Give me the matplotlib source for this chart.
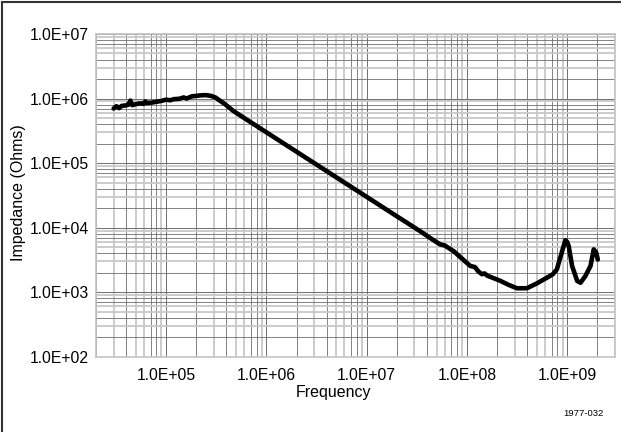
import matplotlib
matplotlib.use("Agg")
import math
import matplotlib.pyplot as plt
from matplotlib.ticker import LogLocator, NullFormatter, FixedLocator
from matplotlib.patches import Rectangle

freq = [3.0e4, 3.2e4, 3.4e4, 3.6e4, 3.9e4, 4.2e4, 4.4e4, 4.6e4, 5.0e4, 5.5e4,
        6.0e4, 6.2e4, 6.5e4, 7.0e4, 8.0e4, 9.0e4, 1.0e5, 1.1e5, 1.2e5, 1.35e5,
        1.5e5, 1.6e5, 1.8e5, 2.0e5, 2.2e5, 2.5e5, 2.8e5, 3.1e5, 3.5e5, 3.9e5,
        4.7e5, 6.0e5, 1.0e6, 2.0e6, 5.0e6, 1.0e7, 2.0e7, 3.4e7, 4.5e7, 5.4e7,
        6.0e7, 7.4e7, 1.08e8, 1.2e8, 1.3e8, 1.41e8, 1.5e8, 1.6e8, 2.15e8, 2.6e8,
        3.15e8, 3.97e8, 5.0e8, 6.3e8, 7.2e8, 7.9e8, 8.9e8, 9.6e8, 1.0e9, 1.035e9,
        1.12e9, 1.26e9, 1.36e9, 1.52e9, 1.71e9, 1.84e9, 1.95e9, 2.02e9]
impedance = [7.0e5, 7.6e5, 7.1e5, 7.7e5, 7.8e5, 8.0e5, 9.3e5, 7.9e5, 8.2e5, 8.4e5,
             8.3e5, 9.0e5, 8.5e5, 8.6e5, 8.9e5, 9.2e5, 9.6e5, 9.4e5, 9.8e5, 9.9e5,
             1.04e6, 1.0e6, 1.08e6, 1.10e6, 1.12e6, 1.13e6, 1.10e6, 1.04e6, 9.1e5, 8.1e5,
             6.4e5, 5.0e5, 3.0e5, 1.5e5, 6.0e4, 3.0e4, 1.5e4, 8.85e3, 6.6e3, 5.5e3,
             5.3e3, 4.3e3, 2.55e3, 2.45e3, 2.1e3, 1.9e3, 1.95e3, 1.8e3, 1.5e3, 1.3e3,
             1.15e3, 1.15e3, 1.37e3, 1.68e3, 1.9e3, 2.26e3, 4.3e3, 6.4e3, 6.0e3, 5.2e3,
             2.55e3, 1.49e3, 1.40e3, 1.78e3, 2.55e3, 4.6e3, 4.1e3, 3.2e3]

x_ticks = [1e5, 1e6, 1e7, 1e8, 1e9]
x_tick_labels = ["1.0E+05", "1.0E+06", "1.0E+07", "1.0E+08", "1.0E+09"]
y_ticks = [1e2, 1e3, 1e4, 1e5, 1e6, 1e7]
y_tick_labels = ["1.0E+02", "1.0E+03", "1.0E+04", "1.0E+05", "1.0E+06", "1.0E+07"]

plt.rcParams['font.family'] = ['Liberation Sans', 'DejaVu Sans']

fig = plt.figure(figsize=(6.21, 4.32), dpi=100)
ax = fig.add_axes([96/621, 1-356.7/432, (615-96)/621, (356.7-34)/432])

ax.set_xscale('log')
ax.set_yscale('log')
ax.set_xlim(2e4, 3e9)
ax.set_ylim(1e2, 1e7)

ax.xaxis.set_major_locator(FixedLocator(x_ticks))
ax.set_xticklabels(x_tick_labels)
ax.yaxis.set_major_locator(FixedLocator(y_ticks))
ax.set_yticklabels(y_tick_labels)
ax.xaxis.set_minor_locator(LogLocator(base=10, subs=range(2, 10), numticks=20))
ax.yaxis.set_minor_locator(LogLocator(base=10, subs=range(2, 10), numticks=20))
ax.xaxis.set_minor_formatter(NullFormatter())
ax.yaxis.set_minor_formatter(NullFormatter())

ax.grid(which='major', color='#6e6e6e', linewidth=0.7)
ax.grid(which='minor', color='#6e6e6e', linewidth=0.6)
ax.tick_params(which='both', length=0, labelsize=11.3, colors='black')
ax.tick_params(axis='x', pad=8)
ax.tick_params(axis='y', pad=5)
for s in ax.spines.values():
    s.set_color('#c4c4c4')
    s.set_linewidth(1.2)
ax.set_axisbelow(True)

# scanned-grid look: some minor lines light and wider, others dark and thin
light_subs = {3, 5, 6, 9}
fig.canvas.draw()
for axis in (ax.xaxis, ax.yaxis):
    locs = axis.get_minorticklocs()
    ticks = axis.get_minor_ticks(len(locs))
    for loc, t in zip(locs, ticks):
        m = int(round(loc / 10 ** math.floor(math.log10(loc) + 1e-9)))
        if m in light_subs:
            t.gridline.set_color('#c8c8c8')
            t.gridline.set_linewidth(1.3)
        else:
            t.gridline.set_color('#6e6e6e')
            t.gridline.set_linewidth(0.6)

ax.plot(freq, impedance, color='black', linewidth=3.3,
        solid_joinstyle='round', solid_capstyle='round')

fig.text(19/621, 1-193/432, "Impedance (Ohms)", rotation=90, ha='center', va='center', fontsize=11.5)
fig.text(334/621, 1-393/432, "Frequency", ha='center', va='center', fontsize=11.5)
fig.text(583/621, 1-414/432, "1977-032", ha='center', va='center', fontsize=6.8)

fig.patches.append(Rectangle((1.5/621, -0.05), 1.2, 1.05 - 1.5/432, transform=fig.transFigure,
                             fill=False, edgecolor='#333333', linewidth=1.5))

fig.savefig("out.png", dpi=100)
